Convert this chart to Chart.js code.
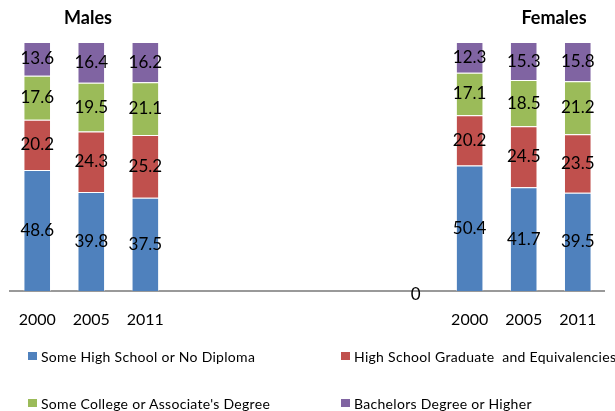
<!DOCTYPE html>
<html>
<head>
<meta charset="utf-8">
<script src="https://cdn.jsdelivr.net/npm/chart.js@4/dist/chart.umd.min.js"></script>
<style>
    html, body { margin: 0; padding: 0; background: #fff; }
    #wrap { position: relative; width: 615px; height: 411px; font-family: Lato, "Open Sans", sans-serif; overflow: hidden; }
    #wrap canvas { position: absolute; left: 0; top: 0; }
    .title { position: absolute; top: 6px; font-weight: bold; font-size: 18px; color: #000; transform: translateX(-50%); }
    .leg { position: absolute; font-size: 14px; letter-spacing: 0.3px; color: #000; white-space: pre; }
    .leg span { position: absolute; left: -13px; top: 4px; width: 9px; height: 8px; }
</style>
</head>
<body>
<div id="wrap">
    <canvas id="chart" width="615" height="411"></canvas>
    <div class="title" style="left:88px">Males</div>
    <div class="title" style="left:554px">Females</div>
</div>

<script>
// categories: males 2000/2005/2011, empty gap, females 2000/2005/2011
const categories = ["2000", "2005", "2011", "", "", "", "", "", "2000", "2005", "2011"];

const seriesNames = [
    "Some High School or No Diploma",
    "High School Graduate  and Equivalencies",
    "Some College or Associate's Degree",
    "Bachelors Degree or Higher"
];

const noDiploma   = [48.6, 39.8, 37.5, null, null, null, null, 0, 50.4, 41.7, 39.5];
const highSchool  = [20.2, 24.3, 25.2, null, null, null, null, null, 20.2, 24.5, 23.5];
const someCollege = [17.6, 19.5, 21.1, null, null, null, null, null, 17.1, 18.5, 21.2];
const bachelors   = [13.6, 16.4, 16.2, null, null, null, null, null, 12.3, 15.3, 15.8];

const colors = ["#4F81BD", "#C0504D", "#9BBB59", "#8064A2"];

const allSeries = [noDiploma, highSchool, someCollege, bachelors];

// legend as html, 2 x 2
const legendPos = [[41, 348], [354, 348], [41, 395], [354, 395]];
const wrap = document.getElementById("wrap");
seriesNames.forEach(function (name, i) {
    const d = document.createElement("div");
    d.className = "leg";
    d.style.left = legendPos[i][0] + "px";
    d.style.top = legendPos[i][1] + "px";
    const box = document.createElement("span");
    box.style.background = colors[i];
    d.appendChild(box);
    d.appendChild(document.createTextNode(name));
    wrap.appendChild(d);
});

// values written in the middle of each segment
const valueLabels = {
    id: "valueLabels",
    afterDatasetsDraw(chart) {
        const ctx = chart.ctx;
        ctx.save();
        ctx.font = "17px Lato";
        ctx.fillStyle = "#000";
        ctx.textAlign = "center";
        ctx.textBaseline = "middle";
        chart.data.datasets.forEach(function (ds, di) {
            const meta = chart.getDatasetMeta(di);
            meta.data.forEach(function (bar, i) {
                const v = ds.data[i];
                if (v === null) return;
                const y = v === 0 ? bar.y + 4 : (bar.y + bar.base) / 2;
                ctx.fillText(v === 0 ? "0" : v.toFixed(1), bar.x, y);
            });
        });
        ctx.restore();
    }
};

new Chart(document.getElementById("chart"), {
    type: "bar",
    data: {
        labels: categories,
        datasets: allSeries.map(function (vals, i) {
            return {
                label: seriesNames[i],
                data: vals,
                backgroundColor: colors[i],
                borderColor: "rgba(255,255,255,0.45)",
                borderWidth: 1
            };
        })
    },
    options: {
        responsive: false,
        animation: false,
        layout: { padding: { top: 42, left: 2, right: 1, bottom: 0 } },
        plugins: {
            legend: { display: false },
            tooltip: { enabled: false }
        },
        datasets: {
            bar: { categoryPercentage: 1, barPercentage: 0.51 }
        },
        scales: {
            x: {
                stacked: true,
                grid: { display: false, drawTicks: false },
                border: { display: true, color: "#999", width: 2 },
                ticks: {
                    color: "#000",
                    font: { family: "Lato", size: 16 },
                    padding: 19,
                    maxRotation: 0,
                    autoSkip: false
                },
                afterFit(scale) { scale.height = 120; }
            },
            y: {
                stacked: true,
                display: false,
                min: 0,
                max: 100
            }
        }
    },
    plugins: [valueLabels]
});
</script>
</body>
</html>
